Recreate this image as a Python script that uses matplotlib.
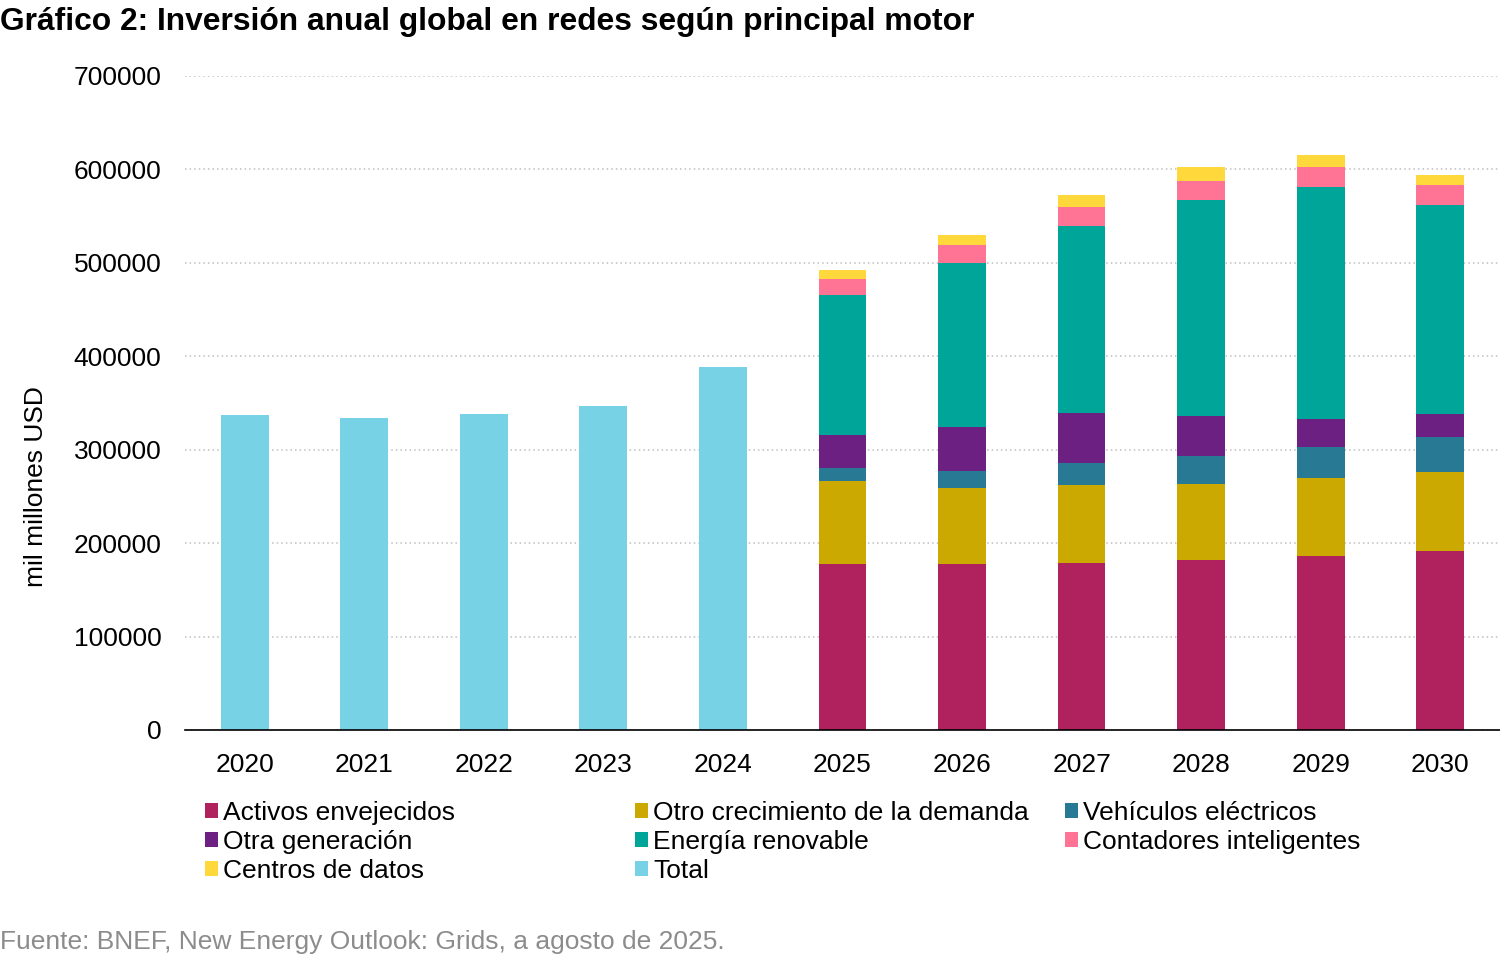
import numpy as np
import matplotlib.pyplot as plt
from matplotlib.patches import Patch

plt.rcParams['font.family'] = ['Liberation Sans', 'DejaVu Sans']

# Data (mil millones USD)
years = ['2020', '2021', '2022', '2023', '2024', '2025', '2026', '2027', '2028', '2029', '2030']
total_hist = [337000, 334000, 338500, 346800, 388500]   # 2020-2024

# 2025-2030 breakdown by main driver
activos = [177700, 177700, 179000, 182300, 186600, 191600]
otro_crec = [89000, 81300, 83500, 81000, 83200, 84200]
vehiculos = [14000, 18500, 23200, 29600, 33200, 37500]
otra_gen = [35000, 47100, 53200, 43500, 30300, 24900]
renovable = [149500, 175500, 200500, 230500, 248000, 224000]
contadores = [17500, 19300, 20300, 21000, 21100, 21100]
centros = [9600, 10400, 12800, 14700, 13200, 10400]

series = [
    ('Activos envejecidos', activos, '#B0225E'),
    ('Otro crecimiento de la demanda', otro_crec, '#CBA900'),
    ('Vehículos eléctricos', vehiculos, '#287A94'),
    ('Otra generación', otra_gen, '#6C2081'),
    ('Energía renovable', renovable, '#00A59A'),
    ('Contadores inteligentes', contadores, '#FF7394'),
    ('Centros de datos', centros, '#FFD93B'),
]
total_color = '#78D2E6'

fig = plt.figure(figsize=(15, 9.57), dpi=100)
ax = fig.add_axes([0.1233, 0.2372, 0.8767, 0.6834])

x = np.arange(len(years))
w = 0.4

# historical totals
ax.bar(x[:5], total_hist, width=w, color=total_color, zorder=3)

# stacked forecast
xf = x[5:]
bottom = np.zeros(len(xf))
for name, vals, col in series:
    ax.bar(xf, vals, width=w, bottom=bottom, color=col, zorder=3)
    bottom += np.array(vals)

ax.set_xlim(-0.5, len(years) - 0.5)
ax.set_ylim(0, 700000)
ax.set_yticks(np.arange(0, 700001, 100000))
ax.set_xticks(x)
ax.set_xticklabels(years)
ax.tick_params(axis='both', length=0, labelsize=19)
ax.tick_params(axis='x', pad=16.5)
ax.tick_params(axis='y', pad=17)

ax.yaxis.grid(True, color='#BFBFBF', linestyle=(0, (1, 2)), linewidth=1.1, zorder=0)
ax.set_axisbelow(True)
for s in ['top', 'right', 'left']:
    ax.spines[s].set_visible(False)
ax.spines['bottom'].set_color('black')
ax.spines['bottom'].set_linewidth(1.2)
ax.spines['bottom'].set_zorder(4)

fig.text(36 / 1500, 1 - 487 / 957, 'mil millones USD', fontsize=19,
         rotation=90, ha='center', va='center')

fig.text(0.0, 1 - 22 / 957, 'Gráfico 2: Inversión anual global en redes según principal motor',
         fontsize=22.9, fontweight='bold', va='center', ha='left')
fig.text(0.0, 1 - 942 / 957, 'Fuente: BNEF, New Energy Outlook: Grids, a agosto de 2025.',
         fontsize=19, color='#8C8C8C', va='center', ha='left')

# legend laid out in three fixed columns
handles = {name: Patch(facecolor=col) for name, _, col in series}
handles['Total'] = Patch(facecolor=total_color)
columns = [
    ['Activos envejecidos', 'Otra generación', 'Centros de datos'],
    ['Otro crecimiento de la demanda', 'Energía renovable', 'Total'],
    ['Vehículos eléctricos', 'Contadores inteligentes'],
]
col_x = [205, 635, 1065]
for cx, names in zip(col_x, columns):
    fig.legend([handles[n] for n in names], names, loc='upper left',
               bbox_to_anchor=(cx / 1500, 1 - 801 / 957), frameon=False,
               fontsize=19, handlelength=0.5, handleheight=0.5,
               handletextpad=0.18, labelspacing=0.18, borderpad=0, borderaxespad=0)

fig.savefig('out.png', dpi=100)
